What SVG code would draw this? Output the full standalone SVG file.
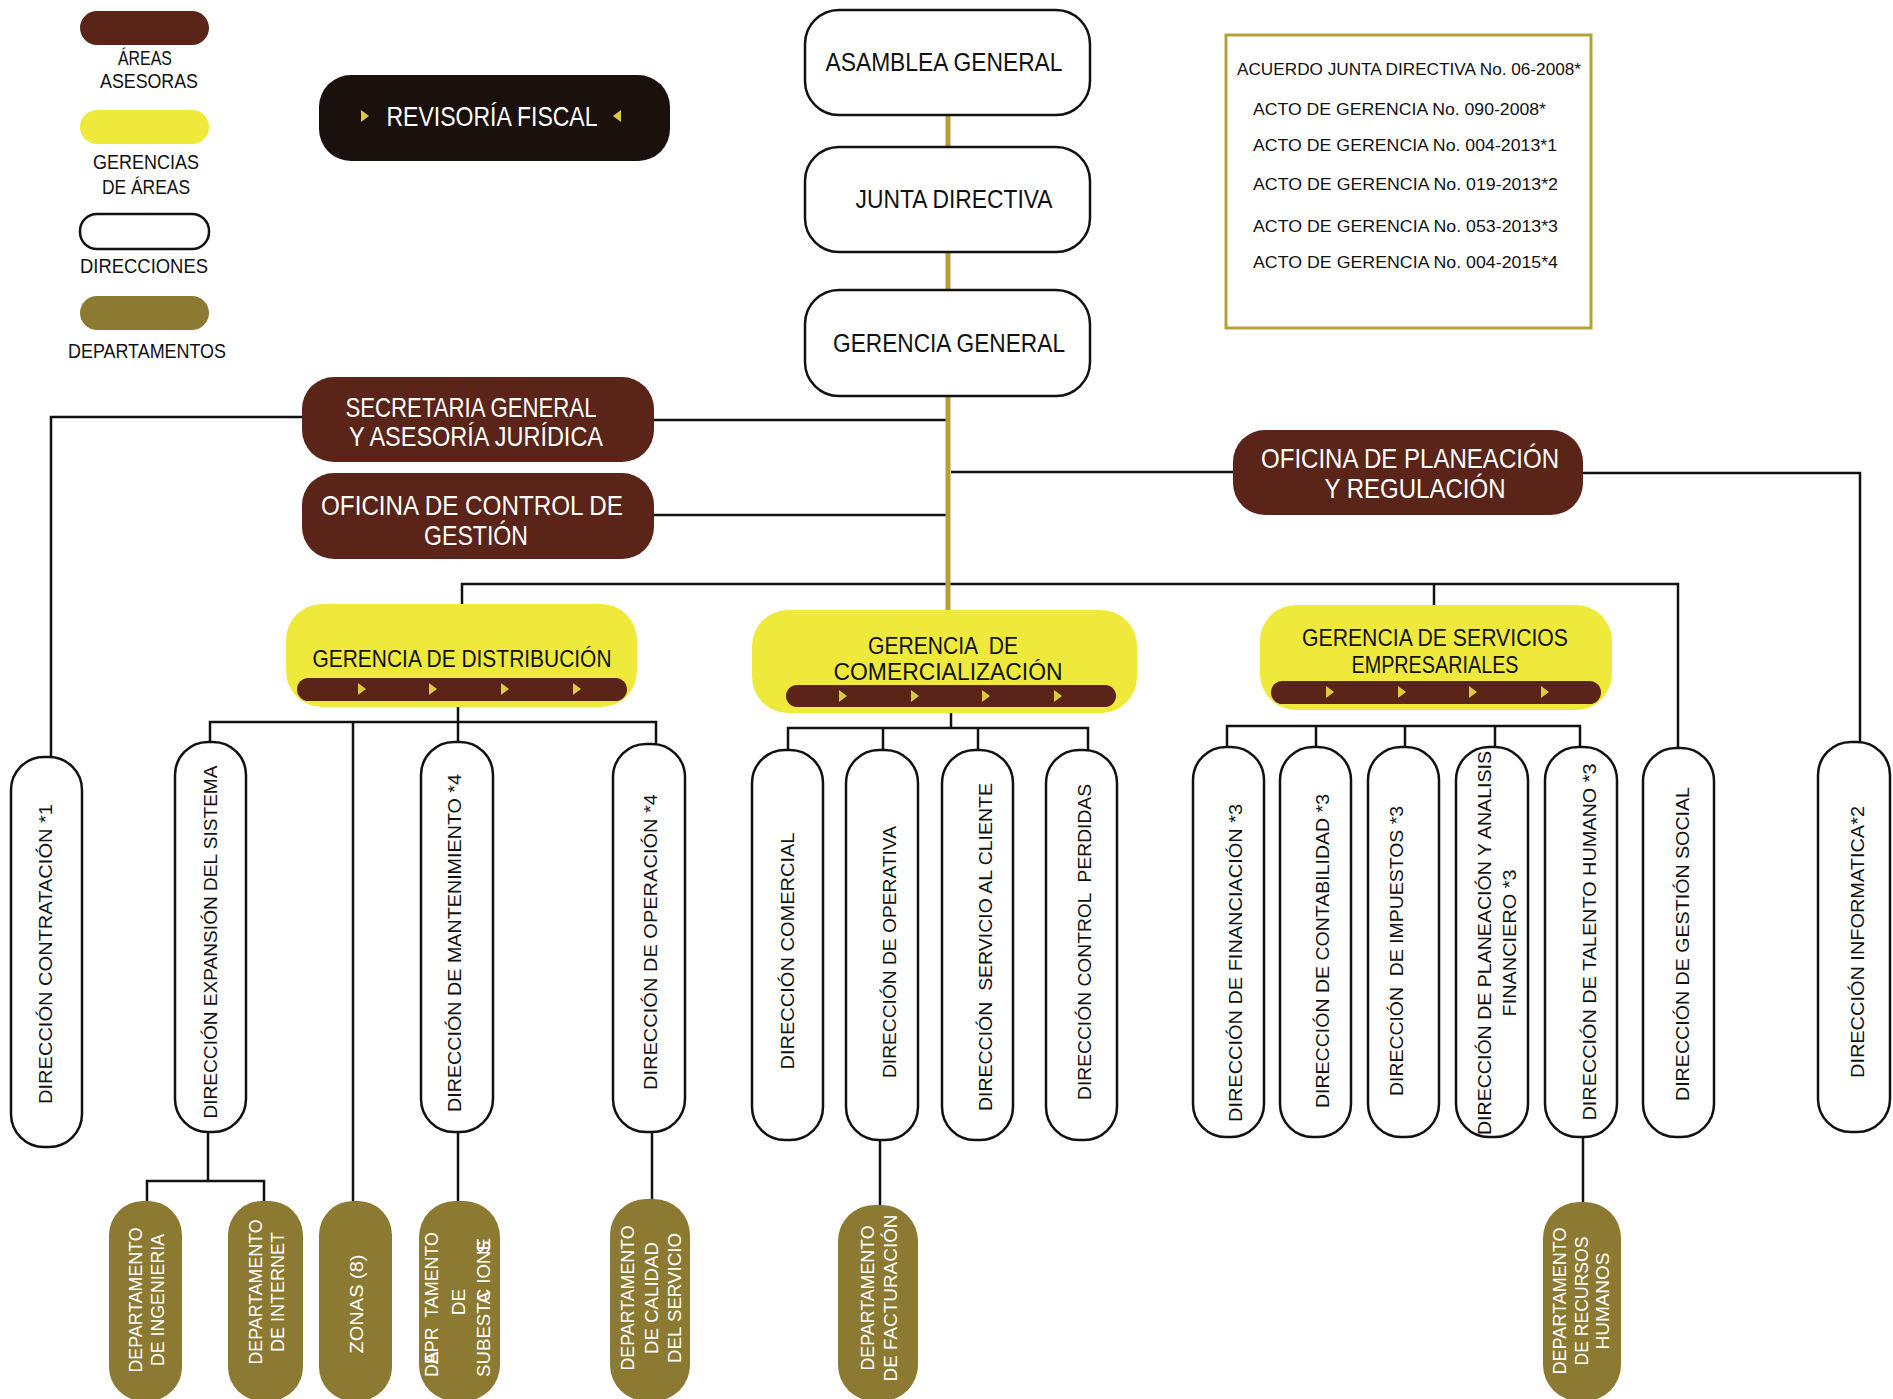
<svg xmlns="http://www.w3.org/2000/svg" width="1893" height="1399" viewBox="0 0 1893 1399">
<style>
text{font-family:"Liberation Sans",Arial,sans-serif;}
.bg{fill:#fff}
.brown{fill:#5a2418}
.yel{fill:#efe93b}
.olv{fill:#8c7a32}
.blk{fill:#1a110d}
.dir{fill:#fff;stroke:#111;stroke-width:2.5}
.ln{stroke:#111;stroke-width:2.5;fill:none}
.gold{stroke:#b5a03c;stroke-width:5;fill:none}
.tri{fill:#dccb3c}
.h{font-size:26px;fill:#111;text-anchor:middle}
.hw{font-size:28px;fill:#fff;text-anchor:middle}
.g{font-size:24px;fill:#111;text-anchor:middle}
.lg{font-size:20px;fill:#111;text-anchor:middle}
.info{font-size:17px;fill:#111}
.v{font-size:19px;fill:#111;text-anchor:middle}
.vw{font-size:19px;fill:#fff;text-anchor:middle}
.vs{font-size:19px;fill:#fff;text-anchor:start}
</style>
<rect class="bg" width="1893" height="1399"/>

<g id="connectors">
  <line class="gold" x1="948" y1="115" x2="948" y2="147"/>
  <line class="gold" x1="948" y1="252" x2="948" y2="290"/>
  <path class="ln" d="M302 417 H51 V758"/>
  <path class="ln" d="M654 420 H948"/>
  <path class="ln" d="M654 515 H948"/>
  <path class="ln" d="M951 472 H1233"/>
  <path class="ln" d="M1583 473 H1860 V742"/>
  <path class="ln" d="M462 604 V584 H1678 V748"/>
  <path class="ln" d="M1434 584 V605"/>
  <line class="gold" x1="948" y1="396" x2="948" y2="610"/>
  <path class="ln" d="M458 707 V722"/>
  <path class="ln" d="M210 742 V722 H656 V744"/>
  <path class="ln" d="M353 722 V1201"/>
  <path class="ln" d="M458 722 V742"/>
  <path class="ln" d="M208 1132 V1181"/>
  <path class="ln" d="M147 1201 V1181 H264 V1201"/>
  <path class="ln" d="M458 1132 V1201"/>
  <path class="ln" d="M652 1132 V1199"/>
  <path class="ln" d="M951 713 V728"/>
  <path class="ln" d="M788 751 V728 H1088 V751"/>
  <path class="ln" d="M883 728 V751"/>
  <path class="ln" d="M978 728 V751"/>
  <path class="ln" d="M880 1140 V1205"/>
  <path class="ln" d="M1227 748 V726 H1580 V748"/>
  <path class="ln" d="M1316 726 V748"/>
  <path class="ln" d="M1405 726 V748"/>
  <path class="ln" d="M1495 726 V748"/>
  <path class="ln" d="M1583 1137 V1205"/>
</g>

<g id="legend">
  <rect class="brown" x="80" y="11" width="129" height="34" rx="17"/>
  <text class="lg" x="145" y="65" textLength="54" lengthAdjust="spacingAndGlyphs">ÁREAS</text>
  <text class="lg" x="149" y="88" textLength="98" lengthAdjust="spacingAndGlyphs">ASESORAS</text>
  <rect class="yel" x="80" y="110" width="129" height="34" rx="17"/>
  <text class="lg" x="146" y="169" textLength="106" lengthAdjust="spacingAndGlyphs">GERENCIAS</text>
  <text class="lg" x="146" y="194" textLength="88" lengthAdjust="spacingAndGlyphs">DE ÁREAS</text>
  <rect x="80" y="214" width="129" height="35" rx="17" fill="#fff" stroke="#111" stroke-width="2.5"/>
  <text class="lg" x="144" y="273" textLength="128" lengthAdjust="spacingAndGlyphs">DIRECCIONES</text>
  <rect class="olv" x="80" y="296" width="129" height="34" rx="17"/>
  <text class="lg" x="147" y="358" textLength="158" lengthAdjust="spacingAndGlyphs">DEPARTAMENTOS</text>
</g>

<g id="revisoria">
  <rect class="blk" x="319" y="75" width="351" height="86" rx="32"/>
  <polygon class="tri" points="361,110 369,116 361,122"/>
  <polygon class="tri" points="621,110 613,116 621,122"/>
  <text class="hw" x="492" y="126" font-size="27" textLength="211" lengthAdjust="spacingAndGlyphs">REVISORÍA FISCAL</text>
</g>

<g id="asamblea">
  <rect class="dir" x="805" y="10" width="285" height="105" rx="34"/>
  <text class="h" x="944" y="71" textLength="237" lengthAdjust="spacingAndGlyphs">ASAMBLEA GENERAL</text>
</g>
<g id="junta">
  <rect class="dir" x="805" y="147" width="285" height="105" rx="34"/>
  <text class="h" x="954" y="208" textLength="197" lengthAdjust="spacingAndGlyphs">JUNTA DIRECTIVA</text>
</g>
<g id="gerencia-general">
  <rect class="dir" x="805" y="290" width="285" height="106" rx="34"/>
  <text class="h" x="949" y="352" textLength="232" lengthAdjust="spacingAndGlyphs">GERENCIA GENERAL</text>
</g>

<g id="info">
  <rect x="1226" y="35" width="365" height="293" fill="none" stroke="#b5a03c" stroke-width="3"/>
  <text class="info" x="1237" y="75" textLength="344" lengthAdjust="spacingAndGlyphs">ACUERDO JUNTA DIRECTIVA No. 06-2008*</text>
  <text class="info" x="1253" y="115" textLength="293" lengthAdjust="spacingAndGlyphs">ACTO DE GERENCIA No. 090-2008*</text>
  <text class="info" x="1253" y="151" textLength="304" lengthAdjust="spacingAndGlyphs">ACTO DE GERENCIA No. 004-2013*1</text>
  <text class="info" x="1253" y="190" textLength="305" lengthAdjust="spacingAndGlyphs">ACTO DE GERENCIA No. 019-2013*2</text>
  <text class="info" x="1253" y="232" textLength="305" lengthAdjust="spacingAndGlyphs">ACTO DE GERENCIA No. 053-2013*3</text>
  <text class="info" x="1253" y="268" textLength="305" lengthAdjust="spacingAndGlyphs">ACTO DE GERENCIA No. 004-2015*4</text>
</g>

<g id="secretaria">
  <rect class="brown" x="302" y="377" width="352" height="85" rx="32"/>
  <text class="hw" x="471" y="417" textLength="251" lengthAdjust="spacingAndGlyphs">SECRETARIA GENERAL</text>
  <text class="hw" x="476" y="446" textLength="254" lengthAdjust="spacingAndGlyphs">Y ASESORÍA JURÍDICA</text>
</g>
<g id="control-gestion">
  <rect class="brown" x="302" y="473" width="352" height="86" rx="32"/>
  <text class="hw" x="472" y="515" textLength="302" lengthAdjust="spacingAndGlyphs">OFICINA DE CONTROL DE</text>
  <text class="hw" x="476" y="545" textLength="104" lengthAdjust="spacingAndGlyphs">GESTIÓN</text>
</g>
<g id="planeacion">
  <rect class="brown" x="1233" y="430" width="350" height="85" rx="32"/>
  <text class="hw" x="1410" y="468" textLength="298" lengthAdjust="spacingAndGlyphs">OFICINA DE PLANEACIÓN</text>
  <text class="hw" x="1415" y="498" textLength="181" lengthAdjust="spacingAndGlyphs">Y REGULACIÓN</text>
</g>

<g id="gerencia-distribucion">
  <rect class="yel" x="286" y="604" width="351" height="103" rx="36"/>
  <text class="g" x="462" y="667" textLength="299" lengthAdjust="spacingAndGlyphs">GERENCIA DE DISTRIBUCIÓN</text>
  <rect class="brown" x="297" y="678" width="330" height="23" rx="11.5"/>
  <polygon class="tri" points="358,683 366,689 358,695"/>
  <polygon class="tri" points="429,683 437,689 429,695"/>
  <polygon class="tri" points="501,683 509,689 501,695"/>
  <polygon class="tri" points="573,683 581,689 573,695"/>
</g>
<g id="gerencia-comercializacion">
  <rect class="yel" x="752" y="610" width="385" height="103" rx="36"/>
  <text class="g" x="943" y="654" textLength="150" lengthAdjust="spacingAndGlyphs" xml:space="preserve">GERENCIA  DE</text>
  <text class="g" x="948" y="680" textLength="229" lengthAdjust="spacingAndGlyphs">COMERCIALIZACIÓN</text>
  <rect class="brown" x="786" y="685" width="330" height="22" rx="11"/>
  <polygon class="tri" points="839,690 847,696 839,702"/>
  <polygon class="tri" points="911,690 919,696 911,702"/>
  <polygon class="tri" points="982,690 990,696 982,702"/>
  <polygon class="tri" points="1054,690 1062,696 1054,702"/>
</g>
<g id="gerencia-servicios">
  <rect class="yel" x="1260" y="605" width="352" height="105" rx="36"/>
  <text class="g" x="1435" y="646" textLength="266" lengthAdjust="spacingAndGlyphs">GERENCIA DE SERVICIOS</text>
  <text class="g" x="1435" y="673" textLength="167" lengthAdjust="spacingAndGlyphs">EMPRESARIALES</text>
  <rect class="brown" x="1271" y="681" width="330" height="23" rx="11.5"/>
  <polygon class="tri" points="1326,686 1334,692 1326,698"/>
  <polygon class="tri" points="1398,686 1406,692 1398,698"/>
  <polygon class="tri" points="1469,686 1477,692 1469,698"/>
  <polygon class="tri" points="1541,686 1549,692 1541,698"/>
</g>

<g id="dir-contratacion">
  <rect class="dir" x="11" y="757" width="71" height="390" rx="33"/>
  <text class="v" transform="translate(45,954) rotate(-90)" y="7" textLength="300" lengthAdjust="spacingAndGlyphs">DIRECCIÓN CONTRATACIÓN *1</text>
</g>
<g id="dir-expansion">
  <rect class="dir" x="175" y="742" width="71" height="390" rx="33"/>
  <text class="v" transform="translate(210,942) rotate(-90)" y="7" textLength="353" lengthAdjust="spacingAndGlyphs">DIRECCIÓN EXPANSIÓN DEL SISTEMA</text>
</g>
<g id="dir-mantenimiento">
  <rect class="dir" x="421" y="742" width="72" height="390" rx="33"/>
  <text class="v" transform="translate(454,943) rotate(-90)" y="7" textLength="338" lengthAdjust="spacingAndGlyphs">DIRECCIÓN DE MANTENIMIENTO *4</text>
</g>
<g id="dir-operacion">
  <rect class="dir" x="613" y="744" width="72" height="388" rx="33"/>
  <text class="v" transform="translate(650,942) rotate(-90)" y="7" textLength="296" lengthAdjust="spacingAndGlyphs">DIRECCIÓN DE OPERACIÓN *4</text>
</g>
<g id="dir-comercial">
  <rect class="dir" x="752" y="750" width="71" height="390" rx="33"/>
  <text class="v" transform="translate(787,951) rotate(-90)" y="7" textLength="237" lengthAdjust="spacingAndGlyphs">DIRECCIÓN COMERCIAL</text>
</g>
<g id="dir-operativa">
  <rect class="dir" x="846" y="750" width="72" height="390" rx="33"/>
  <text class="v" transform="translate(889,952) rotate(-90)" y="7" textLength="252" lengthAdjust="spacingAndGlyphs">DIRECCIÓN DE OPERATIVA</text>
</g>
<g id="dir-servicio-cliente">
  <rect class="dir" x="942" y="750" width="71" height="390" rx="33"/>
  <text class="v" transform="translate(985,947) rotate(-90)" y="7" textLength="328" lengthAdjust="spacingAndGlyphs" xml:space="preserve">DIRECCIÓN  SERVICIO AL CLIENTE</text>
</g>
<g id="dir-control-perdidas">
  <rect class="dir" x="1046" y="750" width="71" height="390" rx="33"/>
  <text class="v" transform="translate(1084,942) rotate(-90)" y="7" textLength="316" lengthAdjust="spacingAndGlyphs" xml:space="preserve">DIRECCIÓN CONTROL  PERDIDAS</text>
</g>
<g id="dir-financiacion">
  <rect class="dir" x="1193" y="747" width="71" height="390" rx="33"/>
  <text class="v" transform="translate(1235,963) rotate(-90)" y="7" textLength="318" lengthAdjust="spacingAndGlyphs">DIRECCIÓN DE FINANCIACIÓN *3</text>
</g>
<g id="dir-contabilidad">
  <rect class="dir" x="1280" y="747" width="71" height="390" rx="33"/>
  <text class="v" transform="translate(1322,951) rotate(-90)" y="7" textLength="314" lengthAdjust="spacingAndGlyphs">DIRECCIÓN DE CONTABILIDAD *3</text>
</g>
<g id="dir-impuestos">
  <rect class="dir" x="1368" y="747" width="71" height="390" rx="33"/>
  <text class="v" transform="translate(1396,951) rotate(-90)" y="7" textLength="290" lengthAdjust="spacingAndGlyphs" xml:space="preserve">DIRECCIÓN  DE IMPUESTOS *3</text>
</g>
<g id="dir-planeacion-financiero">
  <rect class="dir" x="1456" y="747" width="72" height="390" rx="33"/>
  <text class="v" transform="translate(1484,943) rotate(-90)" y="7" textLength="384" lengthAdjust="spacingAndGlyphs">DIRECCIÓN DE PLANEACIÓN Y ANALISIS</text>
  <text class="v" transform="translate(1509,943) rotate(-90)" y="7" textLength="147" lengthAdjust="spacingAndGlyphs">FINANCIERO *3</text>
</g>
<g id="dir-talento">
  <rect class="dir" x="1545" y="747" width="72" height="390" rx="33"/>
  <text class="v" transform="translate(1589,942) rotate(-90)" y="7" textLength="357" lengthAdjust="spacingAndGlyphs">DIRECCIÓN DE TALENTO HUMANO *3</text>
</g>
<g id="dir-gestion-social">
  <rect class="dir" x="1643" y="748" width="71" height="389" rx="33"/>
  <text class="v" transform="translate(1682,944) rotate(-90)" y="7" textLength="314" lengthAdjust="spacingAndGlyphs">DIRECCIÓN DE GESTIÓN SOCIAL</text>
</g>
<g id="dir-informatica">
  <rect class="dir" x="1818" y="742" width="72" height="390" rx="33"/>
  <text class="v" transform="translate(1857,942) rotate(-90)" y="7" textLength="272" lengthAdjust="spacingAndGlyphs">DIRECCIÓN INFORMATICA*2</text>
</g>

<g id="dep-ingenieria">
  <rect class="olv" x="109" y="1201" width="73" height="200" rx="34"/>
  <g transform="translate(146,1300) rotate(-90)">
    <text class="vw" y="-4" textLength="145" lengthAdjust="spacingAndGlyphs">DEPARTAMENTO</text>
    <text class="vw" y="18" textLength="132" lengthAdjust="spacingAndGlyphs">DE INGENIERIA</text>
  </g>
</g>
<g id="dep-internet">
  <rect class="olv" x="228" y="1201" width="75" height="200" rx="34"/>
  <g transform="translate(266,1292) rotate(-90)">
    <text class="vw" y="-4" textLength="145" lengthAdjust="spacingAndGlyphs">DEPARTAMENTO</text>
    <text class="vw" y="18" textLength="120" lengthAdjust="spacingAndGlyphs">DE INTERNET</text>
  </g>
</g>
<g id="dep-zonas">
  <rect class="olv" x="319" y="1201" width="73" height="200" rx="34"/>
  <text class="vw" transform="translate(356,1304) rotate(-90)" y="7" textLength="99" lengthAdjust="spacingAndGlyphs">ZONAS (8)</text>
</g>
<g id="dep-subestaciones">
  <rect class="olv" x="419" y="1201" width="81" height="200" rx="36"/>
  <g transform="translate(0,1377) rotate(-90)">
    <text class="vs" x="0" y="438" textLength="145" lengthAdjust="spacingAndGlyphs" xml:space="preserve">DEPR  TAMENTO</text>
    <text class="vw" x="19" y="438">A</text>
    <text class="vw" x="75" y="465">DE</text>
    <text class="vs" x="0" y="490" textLength="139" lengthAdjust="spacingAndGlyphs">SUBESTC IONE</text>
    <text class="vw" x="79" y="490">A</text>
    <text class="vw" x="130" y="490">S</text>
  </g>
</g>
<g id="dep-calidad">
  <rect class="olv" x="610" y="1199" width="80" height="202" rx="36"/>
  <g transform="translate(652,1298) rotate(-90)">
    <text class="vw" y="-18" textLength="145" lengthAdjust="spacingAndGlyphs">DEPARTAMENTO</text>
    <text class="vw" y="6" textLength="112" lengthAdjust="spacingAndGlyphs">DE CALIDAD</text>
    <text class="vw" y="29" textLength="130" lengthAdjust="spacingAndGlyphs">DEL SERVICIO</text>
  </g>
</g>
<g id="dep-facturacion">
  <rect class="olv" x="838" y="1205" width="80" height="196" rx="36"/>
  <g transform="translate(879,1298) rotate(-90)">
    <text class="vw" y="-5" textLength="145" lengthAdjust="spacingAndGlyphs">DEPARTAMENTO</text>
    <text class="vw" y="18" textLength="167" lengthAdjust="spacingAndGlyphs">DE FACTURACIÓN</text>
  </g>
</g>
<g id="dep-rrhh">
  <rect class="olv" x="1543" y="1202" width="78" height="199" rx="36"/>
  <g transform="translate(1582,1301) rotate(-90)">
    <text class="vw" y="-16" textLength="147" lengthAdjust="spacingAndGlyphs">DEPARTAMENTO</text>
    <text class="vw" y="6" textLength="129" lengthAdjust="spacingAndGlyphs">DE RECURSOS</text>
    <text class="vw" y="27" textLength="97" lengthAdjust="spacingAndGlyphs">HUMANOS</text>
  </g>
</g>
</svg>
